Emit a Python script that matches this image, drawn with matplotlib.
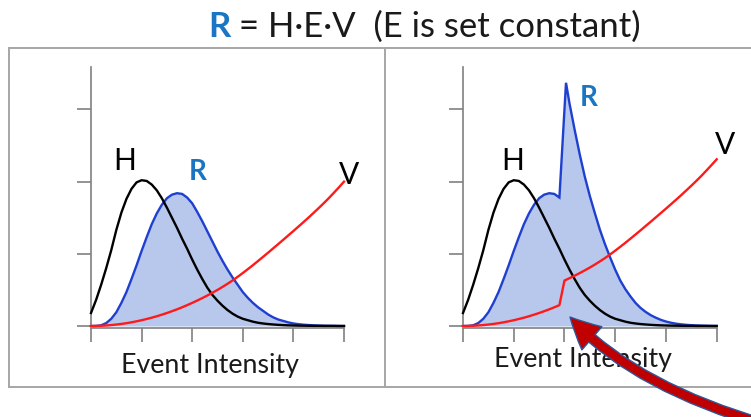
import matplotlib
matplotlib.use("Agg")
import matplotlib.pyplot as plt
from matplotlib.patches import FancyArrowPatch
from matplotlib.lines import Line2D
from matplotlib.path import Path

# ---------------- data ----------------
x_grid = [0.0, 0.1, 0.2, 0.3, 0.4, 0.5, 0.6, 0.7, 0.8, 0.9,
          1.0, 1.1, 1.2, 1.3, 1.4, 1.5, 1.6, 1.7, 1.8, 1.9,
          2.0, 2.1, 2.2, 2.3, 2.4, 2.5, 2.6, 2.7, 2.8, 2.9,
          3.0, 3.1, 3.2, 3.3, 3.4, 3.5, 3.6, 3.7, 3.8, 3.9,
          4.0, 4.1, 4.2, 4.3, 4.4, 4.5, 4.6, 4.7, 4.8, 4.9, 5.0]

h_vals = [0.18, 0.36, 0.57, 0.80, 1.05, 1.33, 1.57, 1.76, 1.90, 1.99,
          2.02, 2.01, 1.96, 1.88, 1.77, 1.64, 1.50, 1.36, 1.21, 1.07,
          0.92, 0.78, 0.65, 0.53, 0.43, 0.35, 0.28, 0.22, 0.17, 0.13,
          0.10, 0.08, 0.06, 0.045, 0.035, 0.027, 0.021, 0.016, 0.012, 0.009,
          0.007, 0.005, 0.004, 0.003, 0.002, 0.002, 0.001, 0.001, 0.001, 0.0, 0.0]

r_left = [0.0, 0.001, 0.010, 0.04, 0.10, 0.19, 0.32, 0.47, 0.65, 0.84,
          1.04, 1.23, 1.41, 1.56, 1.68, 1.77, 1.82, 1.84, 1.83, 1.78,
          1.70, 1.58, 1.45, 1.31, 1.17, 1.03, 0.90, 0.78, 0.67, 0.57,
          0.47, 0.39, 0.32, 0.26, 0.21, 0.16, 0.12, 0.09, 0.07, 0.05,
          0.035, 0.025, 0.018, 0.013, 0.009, 0.006, 0.004, 0.003, 0.002, 0.001, 0.0]

v_left = [0.000, 0.001, 0.003, 0.007, 0.013, 0.020, 0.029, 0.039, 0.051, 0.065,
          0.080, 0.097, 0.115, 0.135, 0.157, 0.180, 0.205, 0.231, 0.259, 0.289,
          0.320, 0.353, 0.387, 0.423, 0.461, 0.500, 0.542, 0.586, 0.632, 0.682,
          0.734, 0.788, 0.843, 0.900, 0.958, 1.016, 1.076, 1.135, 1.195, 1.256,
          1.316, 1.378, 1.440, 1.503, 1.568, 1.634, 1.702, 1.772, 1.846, 1.922, 2.000]

v_right = [0.000, 0.001, 0.003, 0.007, 0.013, 0.020, 0.029, 0.039, 0.051, 0.065,
           0.080, 0.097, 0.115, 0.135, 0.157, 0.180, 0.205, 0.231, 0.259, 0.289,
           0.630, 0.663, 0.697, 0.733, 0.771, 0.810, 0.852, 0.896, 0.942, 0.992,
           1.044, 1.098, 1.153, 1.210, 1.268, 1.326, 1.386, 1.445, 1.505, 1.566,
           1.626, 1.688, 1.750, 1.813, 1.878, 1.944, 2.012, 2.082, 2.156, 2.232, 2.310]

x_r_right = [0.0, 0.1, 0.2, 0.3, 0.4, 0.5, 0.6, 0.7, 0.8, 0.9,
             1.0, 1.1, 1.2, 1.3, 1.4, 1.5, 1.6, 1.7, 1.8, 1.9,
             2.03, 2.1, 2.2, 2.3, 2.4, 2.5, 2.6, 2.7, 2.8, 2.9,
             3.0, 3.1, 3.2, 3.3, 3.4, 3.5, 3.6, 3.7, 3.8, 3.9,
             4.0, 4.1, 4.2, 4.3, 4.4, 4.5, 4.6, 4.7, 4.8, 4.9, 5.0]
r_right = [0.0, 0.001, 0.010, 0.04, 0.10, 0.19, 0.32, 0.47, 0.65, 0.84,
           1.04, 1.23, 1.41, 1.56, 1.68, 1.77, 1.82, 1.84, 1.83, 1.78,
           3.37, 3.08, 2.72, 2.38, 2.07, 1.80, 1.56, 1.33, 1.13, 0.95,
           0.78, 0.63, 0.51, 0.41, 0.32, 0.25, 0.195, 0.15, 0.115, 0.085,
           0.062, 0.045, 0.032, 0.023, 0.016, 0.011, 0.008, 0.005, 0.003, 0.002, 0.001]

x_ticks = [0, 1, 2, 3, 4, 5]
y_ticks = [0, 1, 2, 3]
xlabel_text = "Event Intensity"
title_r = "R"
title_rest = " = H·E·V  (E is set constant)"

# ---------------- styling ----------------
W, H = 751, 417
FONT = ["Lato", "DejaVu Sans"]
C_BLUE_LINE = "#1f3fd0"
C_FILL = "#b7c8ec"
C_RED = "#ff1a1a"
C_LABEL_BLUE = "#1a76c2"
C_AXIS = "#808080"
C_BOX = "#a6a6a6"

fig = plt.figure(figsize=(W / 100, H / 100), dpi=100)
fig.patch.set_facecolor("white")


def fx(px):
    return px / W


def fy(py):
    return 1 - py / H


XLIM = (-0.3, 5.6)
YLIM = (-0.35, 3.75)
PPY = 72.17


def make_axes(x0px, x5px):
    ppx = (x5px - x0px) / 5.0
    left_px = x0px + XLIM[0] * ppx
    width_px = (XLIM[1] - XLIM[0]) * ppx
    bottom_py = 326 - YLIM[0] * PPY
    height_px = (YLIM[1] - YLIM[0]) * PPY
    ax = fig.add_axes([fx(left_px), fy(bottom_py), width_px / W, height_px / H])
    ax.set_xlim(*XLIM)
    ax.set_ylim(*YLIM)
    ax.patch.set_visible(False)
    for s in ("top", "right"):
        ax.spines[s].set_visible(False)
    ax.spines["left"].set_position(("data", 0))
    ax.spines["left"].set_bounds(0, 3.59)
    ax.spines["bottom"].set_position(("data", -0.03))
    ax.spines["bottom"].set_bounds(0, 5)
    for s in ("left", "bottom"):
        ax.spines[s].set_color(C_AXIS)
        ax.spines[s].set_linewidth(1.2)
    ax.set_xticks(x_ticks)
    ax.set_yticks(y_ticks)
    ax.set_xticklabels([])
    ax.set_yticklabels([])
    ax.tick_params(direction="out", length=10, width=1.2, color=C_AXIS)
    return ax


def draw_panel(ax, xr, rv, xv, vv):
    ax.fill_between(xr, rv, 0, color=C_FILL, lw=0, zorder=1)
    ax.plot(xr, rv, color=C_BLUE_LINE, lw=1.7, zorder=2, solid_joinstyle="miter")
    ax.plot(x_grid, h_vals, color="black", lw=1.7, zorder=3)
    ax.plot(xv, vv, color=C_RED, lw=1.7, zorder=4)


axL = make_axes(91, 344)
draw_panel(axL, x_grid, r_left, x_grid, v_left)
axR = make_axes(463, 716.7)
draw_panel(axR, x_r_right, r_right, x_grid, v_right)

# ---------------- panel frames ----------------
frame_lines = [
    ((9, 751), (47.5, 47.5)),
    ((9, 751), (387, 387)),
    ((9, 9), (47.5, 387)),
    ((384.5, 384.5), (47.5, 387)),
]
for xs, ys in frame_lines:
    fig.add_artist(Line2D([fx(v) for v in xs], [fy(v) for v in ys],
                          transform=fig.transFigure, color=C_BOX, lw=1.4))

# ---------------- title ----------------
t1 = fig.text(fx(208), fy(37), title_r, fontsize=25, fontweight="bold",
              color=C_LABEL_BLUE, family=FONT, va="baseline", ha="left")
fig.canvas.draw()
bb = t1.get_window_extent()
fig.text(bb.x1 / W, fy(37), title_rest, fontsize=25, color="#1a1a1a",
         family=FONT, va="baseline", ha="left")

# ---------------- curve labels ----------------
def label(px, py, s, color="black", bold=False, size=21.5):
    fig.text(fx(px), fy(py), s, fontsize=size, color=color, family=FONT,
             fontweight="bold" if bold else "normal", ha="center", va="center")


label(125, 161, "H")
label(198, 172, "R", C_LABEL_BLUE, True, 20)
label(349, 175, "V")
label(513, 161, "H")
label(589, 98, "R", C_LABEL_BLUE, True, 20)
label(725, 145, "V")

fig.text(fx(209.5), fy(373.5), xlabel_text, fontsize=19.3, color="#1a1a1a",
         family=FONT, ha="center", va="baseline")
fig.text(fx(582.5), fy(367.5), xlabel_text, fontsize=19.3, color="#1a1a1a",
         family=FONT, ha="center", va="baseline")

# ---------------- arrow ----------------
arrow_pts = [(800, 434), (640, 394), (570, 317)]
arrow_path = Path([(fx(a), fy(b)) for a, b in arrow_pts],
                  [Path.MOVETO, Path.CURVE3, Path.CURVE3])
arrow = FancyArrowPatch(path=arrow_path, transform=fig.transFigure,
                        arrowstyle="simple,head_length=22,head_width=22,tail_width=7",
                        facecolor="#c00000", edgecolor="#2f5597", lw=1.0,
                        zorder=10, clip_on=False)
fig.add_artist(arrow)

fig.savefig("out.png", dpi=100, facecolor="white")
